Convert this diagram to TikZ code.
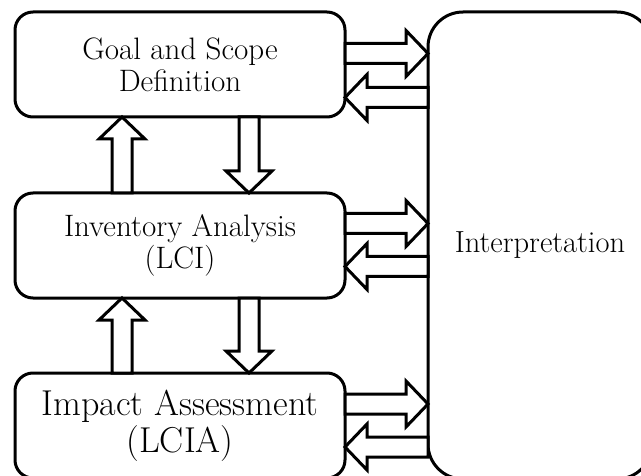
\documentclass[tikz,border=0pt]{standalone}
\usepackage{tikz}
\usetikzlibrary{positioning,calc}

% hollow block arrow from #1 to #2 (tip at #2)
\newcommand{\fatarrow}[2]{%
  \coordinate (fh) at ($(#2)!22pt!(#1)$);
  \draw[fat] ($(#1)!10pt!90:(#2)$) -- ($(fh)!10pt!90:(#2)$)
    -- ($(fh)!23pt!90:(#2)$) -- (#2) -- ($(fh)!23pt!-90:(#2)$)
    -- ($(fh)!10pt!-90:(#2)$) -- ($(#1)!10pt!-90:(#2)$) -- cycle;}

\begin{document}
\begin{tikzpicture}[x=1pt,y=1pt,line width=3pt,node distance=76pt,
    phase/.style={draw, rounded corners=18pt, minimum width=330pt,
      minimum height=105pt, align=center, outer sep=0pt,
      font=\fontsize{31}{32}\selectfont},
    fat/.style={draw, fill=white, line join=miter}]
  \useasboundingbox (0,0) rectangle (641,475);
  \clip (0,0) rectangle (641,475);

  \node[phase] (goal) at (180,410.5) {Goal and Scope\\Definition};
  \node[phase] (inv) [below=of goal] {Inventory Analysis\\(LCI)};
  \node[phase, font=\fontsize{36}{37}\selectfont] (lcia) [below=75pt of inv]
    {Impact Assessment\\(LCIA)};
  \node[draw, rounded corners=35pt, minimum width=224pt, minimum height=467pt,
    outer sep=0pt, font=\fontsize{30.5}{32}\selectfont] (interp) [right=83pt of inv]
    {Interpretation};

  % vertical arrows
  \coordinate (gu) at ([xshift=-58pt]goal.south);
  \coordinate (gd) at ([xshift=69pt]goal.south);
  \coordinate (iu) at ([xshift=-58pt]inv.north);
  \coordinate (id) at ([xshift=69pt]inv.north);
  \coordinate (iu2) at ([xshift=-58pt]inv.south);
  \coordinate (id2) at ([xshift=69pt]inv.south);
  \coordinate (lu) at ([xshift=-58pt]lcia.north);
  \coordinate (ld) at ([xshift=69pt]lcia.north);
  \fatarrow{iu}{gu}
  \fatarrow{gd}{id}
  \fatarrow{lu}{iu2}
  \fatarrow{id2}{ld}

  % horizontal arrows
  \coordinate (g1) at ([yshift=11pt]goal.east);
  \coordinate (g2) at ([yshift=-33pt]goal.east);
  \coordinate (v1) at ([yshift=22pt]inv.east);
  \coordinate (v2) at ([yshift=-21pt]inv.east);
  \coordinate (l1) at ([yshift=21.5pt]lcia.east);
  \coordinate (l2) at ([yshift=-21.5pt]lcia.east);
  \coordinate (p1) at (interp.west |- g1);
  \coordinate (p2) at (interp.west |- g2);
  \coordinate (q1) at (interp.west |- v1);
  \coordinate (q2) at (interp.west |- v2);
  \coordinate (r1) at (interp.west |- l1);
  \coordinate (r2) at (interp.west |- l2);
  \fatarrow{g1}{p1}
  \fatarrow{p2}{g2}
  \fatarrow{v1}{q1}
  \fatarrow{q2}{v2}
  \fatarrow{l1}{r1}
  \fatarrow{r2}{l2}
\end{tikzpicture}
\end{document}
